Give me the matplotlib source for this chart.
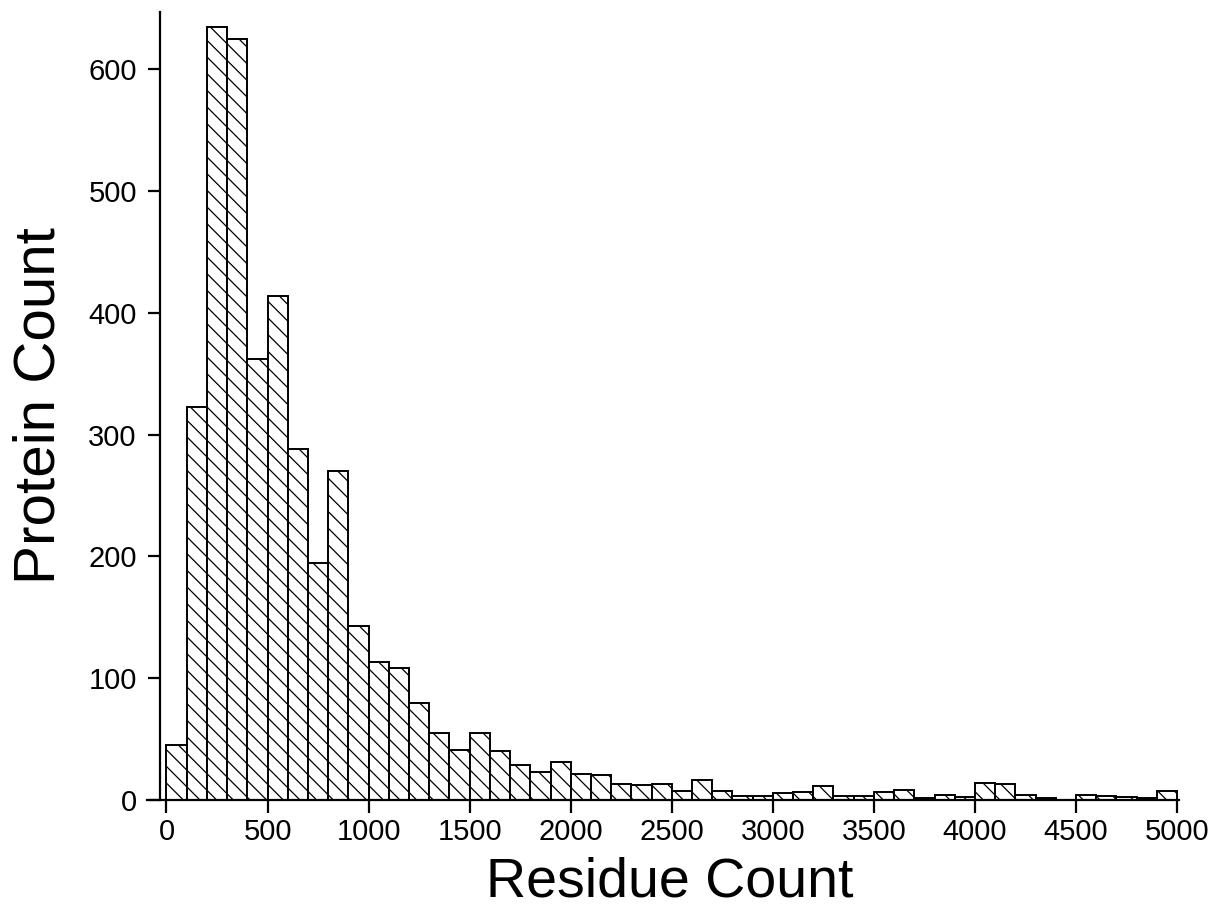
"""Histogram of protein lengths (residue count), hatched bars."""

## LIBRARIES
import numpy as np
import matplotlib
matplotlib.use('Agg')
import matplotlib.pyplot as plt

# bin starts (width 100) and protein counts
bin_starts = np.arange(0, 5000, 100)
counts = [45, 323, 635, 625, 362, 414, 288, 194, 270, 143,
          113, 108, 79, 55, 41, 55, 40, 28, 23, 31,
          21, 20, 13, 12, 13, 7, 16, 7, 3, 3,
          5, 6, 11, 3, 3, 6, 8, 1, 4, 2,
          14, 13, 4, 1, 0, 4, 3, 2, 1, 7]
x_ticks = np.arange(0, 5001, 500)
y_ticks = [0, 100, 200, 300, 400, 500, 600]

plt.rcParams['font.family'] = ['Liberation Sans', 'DejaVu Sans']
plt.rcParams['hatch.linewidth'] = 0.9

fig = plt.figure(figsize=(12.2, 9.24), dpi=100)
ax = fig.add_axes([0.1315, 0.1347, 0.835, 0.852])

ax.bar(bin_starts, counts, width=100, align='edge', color='white',
       edgecolor='black', linewidth=1.4, hatch='\\\\')

ax.set_xlim(-30, 5010)
ax.set_ylim(0, 647)
ax.set_xticks(x_ticks)
ax.set_yticks(y_ticks)

for side in ['top', 'right']:
    ax.spines[side].set_visible(False)
for side in ['left', 'bottom']:
    ax.spines[side].set_linewidth(1.6)
# x axis line runs a bit past the y axis, like the original
ax.spines['bottom'].set_bounds(-95, 5010)

ax.tick_params(axis='both', direction='out', length=9, width=1.6,
               labelsize=21)
ax.tick_params(axis='x', pad=4)
ax.tick_params(axis='y', pad=8)

ax.set_xlabel('Residue Count', fontsize=40, labelpad=8)
ax.set_ylabel('Protein Count', fontsize=42, labelpad=16)

fig.savefig('out.png', dpi=100)
